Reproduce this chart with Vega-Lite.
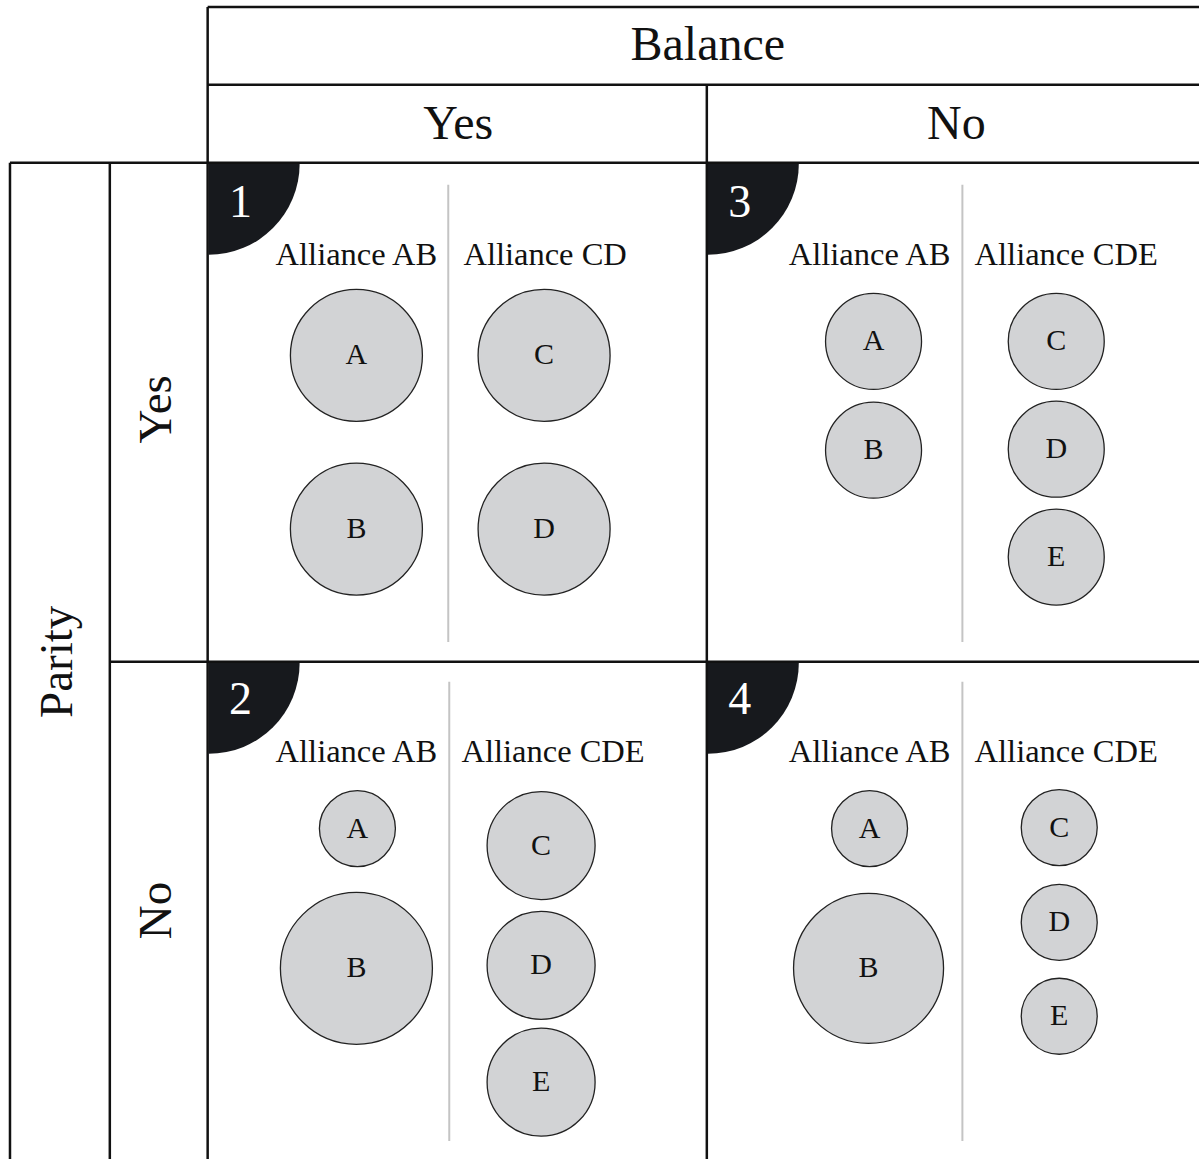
{
  "$schema": "https://vega.github.io/schema/vega-lite/v6.json",
  "autosize": {"type": "fit", "contains": "padding"},
  "width": 1201,
  "height": 1161,
  "padding": 0,
  "background": "white",
  "config": {"view": {"stroke": null}, "text": {"font": "Liberation Serif"}},
  "datasets": {
    "frame": [
      {"x": 208, "y": 7, "x2": 1201, "y2": 7},
      {"x": 208, "y": 85, "x2": 1201, "y2": 85},
      {"x": 10, "y": 163, "x2": 1201, "y2": 163},
      {"x": 110, "y": 663, "x2": 1201, "y2": 663},
      {"x": 208, "y": 7, "x2": 208, "y2": 1161},
      {"x": 708, "y": 85, "x2": 708, "y2": 1161},
      {"x": 10, "y": 163, "x2": 10, "y2": 1161},
      {"x": 110, "y": 163, "x2": 110, "y2": 1161}
    ],
    "dividers": [
      {"x": 449, "y": 185, "x2": 449, "y2": 643},
      {"x": 964, "y": 185, "x2": 964, "y2": 643},
      {"x": 450, "y": 683, "x2": 450, "y2": 1143},
      {"x": 964, "y": 683, "x2": 964, "y2": 1143}
    ],
    "corners": [
      {"cell": "1", "x": 209, "y": 164, "nx": 241, "ny": 203},
      {"cell": "3", "x": 709, "y": 164, "nx": 741, "ny": 203},
      {"cell": "2", "x": 209, "y": 664, "nx": 241, "ny": 701},
      {"cell": "4", "x": 709, "y": 664, "nx": 741, "ny": 701}
    ],
    "headers": [
      {"text": "Balance", "x": 709, "y": 46, "angle": 0},
      {"text": "Yes", "x": 459, "y": 125, "angle": 0},
      {"text": "No", "x": 958, "y": 125, "angle": 0},
      {"text": "Parity", "x": 58, "y": 663, "angle": 270},
      {"text": "Yes", "x": 157, "y": 410, "angle": 270},
      {"text": "No", "x": 157, "y": 912, "angle": 270}
    ],
    "alliances": [
      {"text": "Alliance AB", "x": 357, "y": 255},
      {"text": "Alliance CD", "x": 546, "y": 255},
      {"text": "Alliance AB", "x": 871, "y": 255},
      {"text": "Alliance CDE", "x": 1068, "y": 255},
      {"text": "Alliance AB", "x": 357, "y": 753},
      {"text": "Alliance CDE", "x": 554, "y": 753},
      {"text": "Alliance AB", "x": 871, "y": 753},
      {"text": "Alliance CDE", "x": 1068, "y": 753}
    ],
    "circles": [
      {"cell": 1, "member": "A", "x": 357, "y": 356, "r": 66},
      {"cell": 1, "member": "B", "x": 357, "y": 530, "r": 66},
      {"cell": 1, "member": "C", "x": 545, "y": 356, "r": 66},
      {"cell": 1, "member": "D", "x": 545, "y": 530, "r": 66},
      {"cell": 3, "member": "A", "x": 875, "y": 342, "r": 48},
      {"cell": 3, "member": "B", "x": 875, "y": 451, "r": 48},
      {"cell": 3, "member": "C", "x": 1058, "y": 342, "r": 48},
      {"cell": 3, "member": "D", "x": 1058, "y": 450, "r": 48},
      {"cell": 3, "member": "E", "x": 1058, "y": 558, "r": 48},
      {"cell": 2, "member": "A", "x": 358, "y": 830, "r": 38},
      {"cell": 2, "member": "B", "x": 357, "y": 970, "r": 76},
      {"cell": 2, "member": "C", "x": 542, "y": 847, "r": 54},
      {"cell": 2, "member": "D", "x": 542, "y": 967, "r": 54},
      {"cell": 2, "member": "E", "x": 542, "y": 1084, "r": 54},
      {"cell": 4, "member": "A", "x": 871, "y": 830, "r": 38},
      {"cell": 4, "member": "B", "x": 870, "y": 970, "r": 75},
      {"cell": 4, "member": "C", "x": 1061, "y": 829, "r": 38},
      {"cell": 4, "member": "D", "x": 1061, "y": 924, "r": 38},
      {"cell": 4, "member": "E", "x": 1061, "y": 1018, "r": 38}
    ]
  },
  "encoding": {
    "x": {"field": "x", "type": "quantitative", "scale": {"domain": [0, 1201], "nice": false, "zero": false}, "axis": null},
    "y": {"field": "y", "type": "quantitative", "scale": {"domain": [0, 1161], "nice": false, "zero": false, "reverse": true}, "axis": null}
  },
  "layer": [
    {
      "data": {"name": "dividers"},
      "mark": {"type": "rule", "color": "#c4c4c4", "strokeWidth": 2},
      "encoding": {"x2": {"field": "x2"}, "y2": {"field": "y2"}}
    },
    {
      "data": {"name": "corners"},
      "mark": {"type": "arc", "radius": 91, "theta": 1.5708, "theta2": 3.1416, "color": "#17191d"},
      "encoding": {}
    },
    {
      "data": {"name": "corners"},
      "mark": {"type": "text", "color": "white", "fontSize": 46, "baseline": "middle", "align": "center"},
      "encoding": {
        "x": {"field": "nx", "type": "quantitative"},
        "y": {"field": "ny", "type": "quantitative"},
        "text": {"field": "cell"}
      }
    },
    {
      "data": {"name": "frame"},
      "mark": {"type": "rule", "color": "#111111", "strokeWidth": 2.5},
      "encoding": {"x2": {"field": "x2"}, "y2": {"field": "y2"}}
    },
    {
      "data": {"name": "headers"},
      "transform": [{"filter": "datum.angle == 0"}],
      "mark": {"type": "text", "color": "#111111", "fontSize": 48, "baseline": "middle", "align": "center"},
      "encoding": {"text": {"field": "text"}}
    },
    {
      "data": {"name": "headers"},
      "transform": [{"filter": "datum.angle == 270"}],
      "mark": {"type": "text", "color": "#111111", "fontSize": 47, "baseline": "middle", "align": "center", "angle": 270},
      "encoding": {"text": {"field": "text"}}
    },
    {
      "data": {"name": "alliances"},
      "mark": {"type": "text", "color": "#111111", "fontSize": 32.5, "baseline": "middle", "align": "center"},
      "encoding": {"text": {"field": "text"}}
    },
    {
      "data": {"name": "circles"},
      "mark": {"type": "circle", "fill": "#d2d3d5", "fillOpacity": 1, "stroke": "#222222", "strokeWidth": 1.3, "opacity": 1},
      "encoding": {
        "size": {"field": "r", "type": "quantitative", "scale": {"type": "pow", "exponent": 2, "domain": [0, 100], "range": [0, 40000]}, "legend": null}
      }
    },
    {
      "data": {"name": "circles"},
      "mark": {"type": "text", "color": "#111111", "fontSize": 30, "baseline": "middle", "align": "center"},
      "encoding": {"text": {"field": "member"}}
    }
  ]
}
